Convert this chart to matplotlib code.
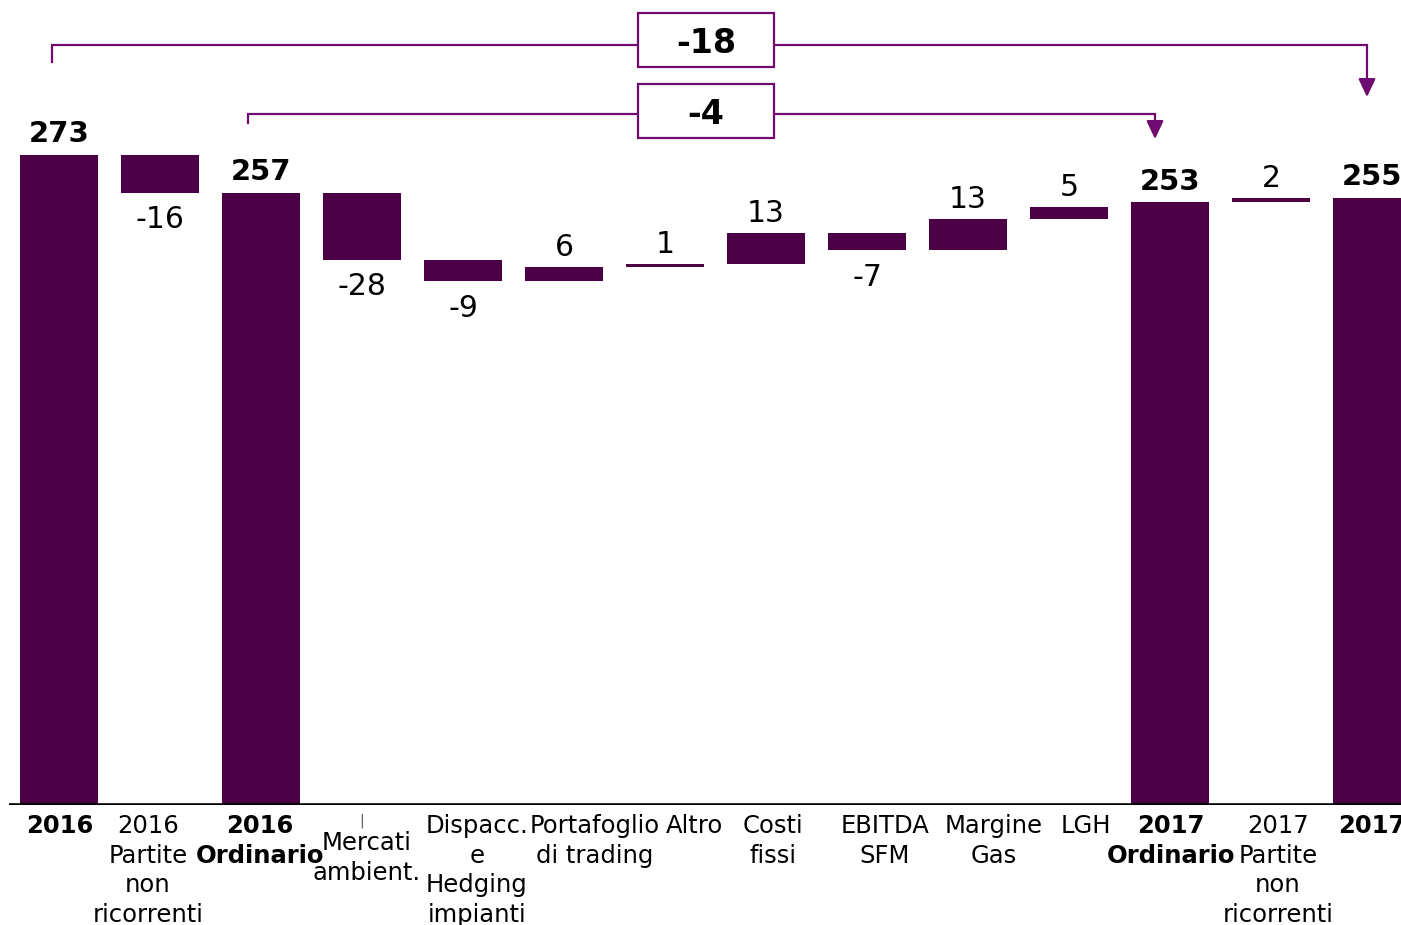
import matplotlib
matplotlib.use("Agg")
import matplotlib.pyplot as plt
from matplotlib.patches import Rectangle
import matplotlib.transforms as mtransforms

# ---- data ----
categories = ["2016", "2016\nPartite\nnon\nricorrenti", "2016\nOrdinario",
              "Mercati\nambient.", "Dispacc.\ne\nHedging\nimpianti",
              "Portafoglio\ndi trading", "Altro", "Costi\nfissi", "EBITDA\nSFM",
              "Margine\nGas", "LGH", "2017\nOrdinario",
              "2017\nPartite\nnon\nricorrenti", "2017"]
values = [273, -16, 257, -28, -9, 6, 1, 13, -7, 13, 5, 253, 2, 255]
is_total = [True, False, True, False, False, False, False, False, False,
            False, False, True, False, True]
bracket_outer = (0, 13)   # 2016 -> 2017
bracket_inner = (2, 11)   # 2016 Ordinario -> 2017 Ordinario

BAR = "#4B0045"
LINE = "#6E0A70"

fig = plt.figure(figsize=(14.01, 9.25), dpi=100)
W, H = 1401, 925
ax_left_px, ax_right_px = 8.5, 1422.5
ax_bottom_px = 805
ax = fig.add_axes([ax_left_px / W, (H - ax_bottom_px) / H,
                   (ax_right_px - ax_left_px) / W, ax_bottom_px / H])
ax.set_xlim(-0.5, 13.5)
ax.set_ylim(0, 338)
ax.axis("off")

# compute bars
bottoms, heights = [], []
running = 0
for v, tot in zip(values, is_total):
    if tot:
        bottoms.append(0)
        heights.append(v)
        running = v
    else:
        bottoms.append(running if v >= 0 else running + v)
        heights.append(abs(v))
        running += v
x = list(range(len(values)))
ax.bar(x, heights, bottom=bottoms, width=0.772, color=BAR, zorder=2)

# baseline
ax.axhline(0, color="black", lw=2.6, zorder=3)

# value labels
for i, (v, tot) in enumerate(zip(values, is_total)):
    top = bottoms[i] + heights[i]
    if tot:
        ax.annotate(f"{v}", xy=(i, top), xytext=(0, 9), textcoords="offset points",
                    ha="center", va="baseline", fontsize=21, fontweight="bold",
                    color="black")
    elif v >= 0:
        ax.annotate(f"{v}", xy=(i, top), xytext=(0, 8), textcoords="offset points",
                    ha="center", va="baseline", fontsize=21.5, color="black")
    else:
        ax.annotate(f"{v}", xy=(i, bottoms[i]), xytext=(0, -9),
                    textcoords="offset points", ha="center", va="top",
                    fontsize=21.5, color="black")

# category labels
label_dx_px = [1, -12, -1, 5, 14, 31, 29, 7, 18, 26, 17, 1, 7, 0]
label_dy_px = [9, 9, 9, 26, 9, 9, 9, 9, 9, 9, 9, 9, 9, 9]
pt = 72 / 100
for i, lab in enumerate(categories):
    ax.annotate(lab, xy=(i, 0), xycoords=("data", "axes fraction"),
                xytext=(label_dx_px[i] * pt, -label_dy_px[i] * pt),
                textcoords="offset points", ha="center", va="top",
                multialignment="center", fontsize=17.5,
                fontweight="bold" if is_total[i] else "normal",
                linespacing=1.29, annotation_clip=False)
# small tick mark above "Mercati"
ax.annotate("|", xy=(3, 0), xycoords=("data", "axes fraction"),
            xytext=(0, -9 * pt), textcoords="offset points", ha="center",
            va="top", fontsize=10, color="#555555", annotation_clip=False)

# brackets
tr = mtransforms.blended_transform_factory(ax.transData, ax.transAxes)
def fy(px):
    return (ax_bottom_px - px) / ax_bottom_px
def dxp(px):
    return px / 101.0

def bracket(i0, i1, y_line, y_tick, y_tip, dx0, dx1, box_y0, box_y1, text):
    xa = i0 + dxp(dx0)
    xb = i1 + dxp(dx1)
    ax.plot([xa, xa, xb, xb], [fy(y_tick), fy(y_line), fy(y_line), fy(y_tip - 14)],
            transform=tr, color=LINE, lw=1.6, clip_on=False, zorder=4,
            solid_joinstyle="miter")
    ax.annotate("", xy=(xb, fy(y_tip)), xycoords=tr,
                xytext=(xb, fy(y_tip - 16)), textcoords=tr,
                arrowprops=dict(arrowstyle="-|>,head_length=0.55,head_width=0.26",
                                mutation_scale=20, color=LINE, lw=1.6,
                                shrinkA=0, shrinkB=0), annotation_clip=False)
    bx0 = 6.406 - dxp(68)
    rect = Rectangle((bx0, fy(box_y1)), dxp(136), fy(box_y0) - fy(box_y1),
                     transform=tr, facecolor="white", edgecolor=LINE, lw=1.6,
                     zorder=5, clip_on=False)
    ax.add_patch(rect)
    ax.text(6.406, fy((box_y0 + box_y1) / 2), text, transform=tr, ha="center",
            va="center_baseline", fontsize=24, fontweight="bold", zorder=6)

d_outer = values[bracket_outer[1]] - values[bracket_outer[0]]
d_inner = values[bracket_inner[1]] - values[bracket_inner[0]]
bracket(*bracket_outer, 45, 62, 97, -7, -5, 13, 67, f"{d_outer}")
bracket(*bracket_inner, 114, 123, 139, -13, -15, 84, 138, f"{d_inner}")

fig.savefig("out.png", dpi=100)
